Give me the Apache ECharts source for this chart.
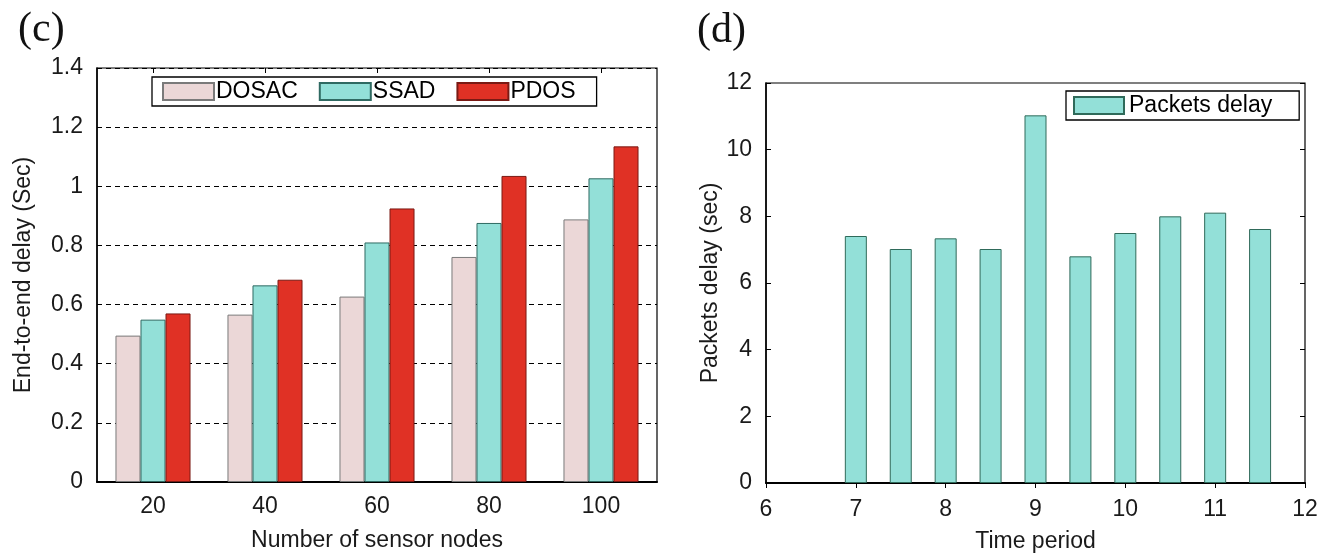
<!DOCTYPE html>
<html>
<head>
<meta charset="utf-8">
<script src="https://cdn.jsdelivr.net/npm/echarts@6/dist/echarts.min.js"></script>
<style>
html,body{margin:0;padding:0;background:#fff;}
#c{width:1332px;height:558px;}
</style>
</head>
<body>
<div id="c"></div>
<script>
// ----- Panel (c) data -----
const nodeCategories = ['20', '40', '60', '80', '100'];
const dosacDelay = [0.495, 0.566, 0.627, 0.761, 0.888];
const ssadDelay  = [0.549, 0.665, 0.810, 0.876, 1.027];
const pdosDelay  = [0.570, 0.684, 0.925, 1.035, 1.135];

// ----- Panel (d) data -----
const timePeriods  = [7, 7.5, 8, 8.5, 9, 9.5, 10, 10.5, 11, 11.5];
const packetsDelay = [7.41, 7.02, 7.34, 7.02, 11.03, 6.8, 7.5, 8.0, 8.11, 7.62];

const FONT = 'Liberation Sans, Arial, Helvetica, sans-serif';
const TXT = '#1a1a1a';
const FS = 23;

const chart = echarts.init(document.getElementById('c'), null, {renderer: 'canvas'});

const option = {
  backgroundColor: '#fff',
  animation: false,
  textStyle: {fontFamily: FONT},
  graphic: [
    {type: 'text', left: 18, top: 9, style: {text: '(c)', font: '42px "Liberation Serif", "Times New Roman", serif', fill: '#111'}},
    {type: 'text', left: 697, top: 10, style: {text: '(d)', font: '42px "Liberation Serif", "Times New Roman", serif', fill: '#111'}}
  ],
  legend: [
    {
      left: 152, top: 77,
      padding: [3, 21, 3, 10],
      itemGap: 21, itemWidth: 51, itemHeight: 17,
      borderColor: '#000', borderWidth: 1.3,
      icon: 'rect',
      textStyle: {fontFamily: FONT, fontSize: FS, color: '#000', padding: [0, 0, 0, -3]},
      data: ['DOSAC', 'SSAD', 'PDOS']
    },
    {
      left: 1066, top: 91,
      padding: [3, 27, 3, 7],
      itemWidth: 50, itemHeight: 17,
      borderColor: '#000', borderWidth: 1.3,
      icon: 'rect',
      textStyle: {fontFamily: FONT, fontSize: FS, color: '#000'},
      data: ['Packets delay']
    }
  ],
  grid: [
    {left: 97, top: 68, right: 675, bottom: 76, show: true, borderColor: '#000', borderWidth: 1.2, backgroundColor: 'transparent'},
    {left: 766, top: 83, right: 27, bottom: 71, show: true, borderColor: '#000', borderWidth: 1.2, backgroundColor: 'transparent'}
  ],
  xAxis: [
    {
      gridIndex: 0, type: 'category', data: nodeCategories, position: 'bottom',
      axisLine: {lineStyle: {color: '#000', width: 2}},
      axisTick: {show: false},
      axisLabel: {margin: 13, fontSize: FS, color: TXT, fontFamily: FONT},
      name: 'Number of sensor nodes', nameLocation: 'middle', nameGap: 47,
      nameTextStyle: {fontSize: FS, color: TXT, fontFamily: FONT},
      splitLine: {show: false}
    },
    {
      gridIndex: 0, type: 'category', data: nodeCategories, position: 'top',
      axisLine: {show: false},
      axisTick: {show: true, inside: true, length: 5, alignWithLabel: true, lineStyle: {color: '#000'}},
      axisLabel: {show: false},
      splitLine: {show: false}
    },
    {
      gridIndex: 1, type: 'value', min: 6, max: 12, interval: 1, position: 'bottom',
      axisLine: {lineStyle: {color: '#000', width: 2}},
      axisTick: {show: false},
      axisLabel: {margin: 15, fontSize: FS, color: TXT, fontFamily: FONT},
      name: 'Time period', nameLocation: 'middle', nameGap: 47,
      nameTextStyle: {fontSize: FS, color: TXT, fontFamily: FONT},
      splitLine: {show: false}
    },
    {
      gridIndex: 1, type: 'value', min: 6, max: 12, interval: 1, position: 'top',
      axisLine: {show: false},
      axisTick: {show: true, inside: true, length: 5, lineStyle: {color: '#000'}},
      axisLabel: {show: false},
      splitLine: {show: false}
    }
  ],
  yAxis: [
    {
      gridIndex: 0, type: 'value', min: 0, max: 1.4, interval: 0.2,
      axisLine: {show: true, lineStyle: {color: '#000', width: 1.5}},
      axisTick: {show: false},
      axisLabel: {margin: 14, fontSize: FS, color: TXT, fontFamily: FONT},
      splitLine: {show: true, lineStyle: {color: '#000', type: [5, 4], width: 1}},
      name: 'End-to-end delay (Sec)', nameLocation: 'middle', nameGap: 62,
      nameTextStyle: {fontSize: FS, color: TXT, fontFamily: FONT}
    },
    {
      gridIndex: 1, type: 'value', min: 0, max: 12, interval: 2,
      axisLine: {show: true, lineStyle: {color: '#000', width: 1.5}},
      axisTick: {show: true, inside: true, length: 5, lineStyle: {color: '#000'}},
      axisLabel: {margin: 14, fontSize: FS, color: TXT, fontFamily: FONT},
      splitLine: {show: false},
      name: 'Packets delay (sec)', nameLocation: 'middle', nameGap: 42,
      nameTextStyle: {fontSize: FS, color: TXT, fontFamily: FONT}
    },
    {
      gridIndex: 1, type: 'value', min: 0, max: 12, interval: 2, position: 'right',
      axisLine: {show: false},
      axisTick: {show: true, inside: true, length: 5, lineStyle: {color: '#000'}},
      axisLabel: {show: false},
      splitLine: {show: false}
    }
  ],
  series: [
    {
      name: 'DOSAC', type: 'bar', xAxisIndex: 0, yAxisIndex: 0,
      data: dosacDelay, barGap: '0%', barCategoryGap: '33%',
      itemStyle: {color: '#ebd7d7', borderColor: '#7a7a7a', borderWidth: 1}
    },
    {
      name: 'SSAD', type: 'bar', xAxisIndex: 0, yAxisIndex: 0,
      data: ssadDelay, barGap: '0%', barCategoryGap: '33%',
      itemStyle: {color: '#93e0d8', borderColor: '#2f6a62', borderWidth: 1}
    },
    {
      name: 'PDOS', type: 'bar', xAxisIndex: 0, yAxisIndex: 0,
      data: pdosDelay, barGap: '0%', barCategoryGap: '33%',
      itemStyle: {color: '#e03125', borderColor: '#7a1a14', borderWidth: 1}
    },
    {
      name: 'Packets delay', type: 'bar', xAxisIndex: 2, yAxisIndex: 1,
      data: timePeriods.map((t, i) => [t, packetsDelay[i]]),
      barWidth: 22,
      itemStyle: {color: '#93e0d8', borderColor: '#2f6a5a', borderWidth: 1}
    }
  ]
};

chart.setOption(option);
</script>
</body>
</html>
